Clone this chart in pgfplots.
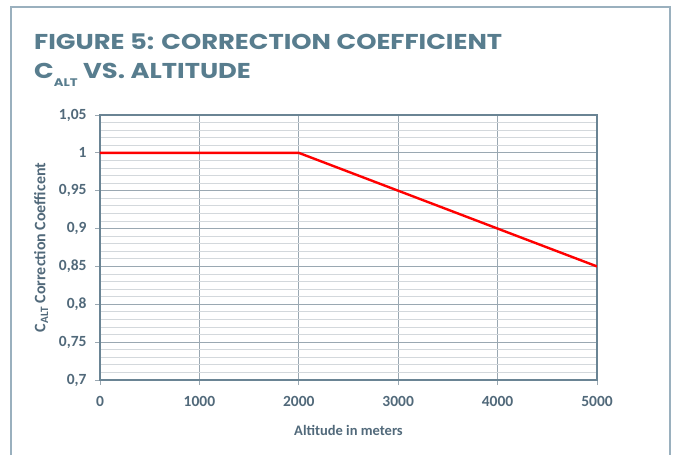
\documentclass[border=0pt]{standalone}
\usepackage{fontspec}
\setmainfont{Carlito}
\newfontfamily\titlefont{Poppins}
\usepackage{pgfplots}
\pgfplotsset{compat=1.18}
\definecolor{titlecol}{HTML}{587D8E}
\definecolor{labcol}{HTML}{51697A}
\definecolor{framecol}{HTML}{9AB0BE}
\definecolor{axcol}{HTML}{6A8494}
\definecolor{majgrid}{HTML}{9AA8B2}
\definecolor{mingrid}{HTML}{D3D8DC}
\begin{document}
\begin{tikzpicture}[x=1pt,y=1pt]
\path (0,0) rectangle (673,-455);
\draw[framecol, line width=1.5pt] (11,-455) -- (11,-7) -- (670,-7) -- (670,-455);
\node[anchor=base west, inner sep=0pt, text=titlecol, font=\titlefont\bfseries\fontsize{21.5}{26}\selectfont] at (34,-49) {\scalebox{1.2}[1]{FIGURE 5: CORRECTION COEFFICIENT}};
\node[anchor=base west, inner sep=0pt, text=titlecol, font=\titlefont\bfseries\fontsize{21.5}{26}\selectfont] at (34,-78) {\scalebox{1.2}[1]{C\raisebox{-8.5pt}{\fontsize{11}{13}\selectfont ALT} VS. ALTITUDE}};
\begin{axis}[
  at={(100pt,-380pt)}, anchor=south west,
  scale only axis, width=497pt, height=265pt,
  xmin=0, xmax=5000, ymin=0.7, ymax=1.05,
  xtick={0,1000,...,5000},
  ytick={0.7,0.75,...,1.05},
  minor y tick num=4,
  grid=both,
  xminorgrids=false,
  major grid style={majgrid, line width=0.8pt},
  minor grid style={mingrid, line width=0.8pt},
  axis line style={axcol, line width=1.2pt},
  tick align=outside,
  major tick length=5pt,
  minor tick length=0pt,
  tick style={majgrid, line width=0.8pt},
  xtick pos=bottom, ytick pos=left,
  /pgf/number format/assume math mode=true,
  /pgf/number format/use comma,
  /pgf/number format/1000 sep={},
  ticklabel style={font=\bfseries\fontsize{15.5}{18}\selectfont, text=labcol},
  xticklabel style={yshift=-8pt},
  yticklabel style={xshift=-5pt},
  xlabel={Altitude in meters},
  ylabel={C\textsubscript{ALT} Correction Coefficent},
  label style={font=\bfseries\fontsize{14.5}{17}\selectfont, text=labcol},
  xlabel style={yshift=-12pt},
  ylabel style={font=\bfseries\fontsize{16}{18}\selectfont, yshift=4pt},
]
\addplot[red, line width=2.4pt] coordinates {(0,1) (2000,1) (5000,0.85)};
\end{axis}
\end{tikzpicture}
\end{document}
